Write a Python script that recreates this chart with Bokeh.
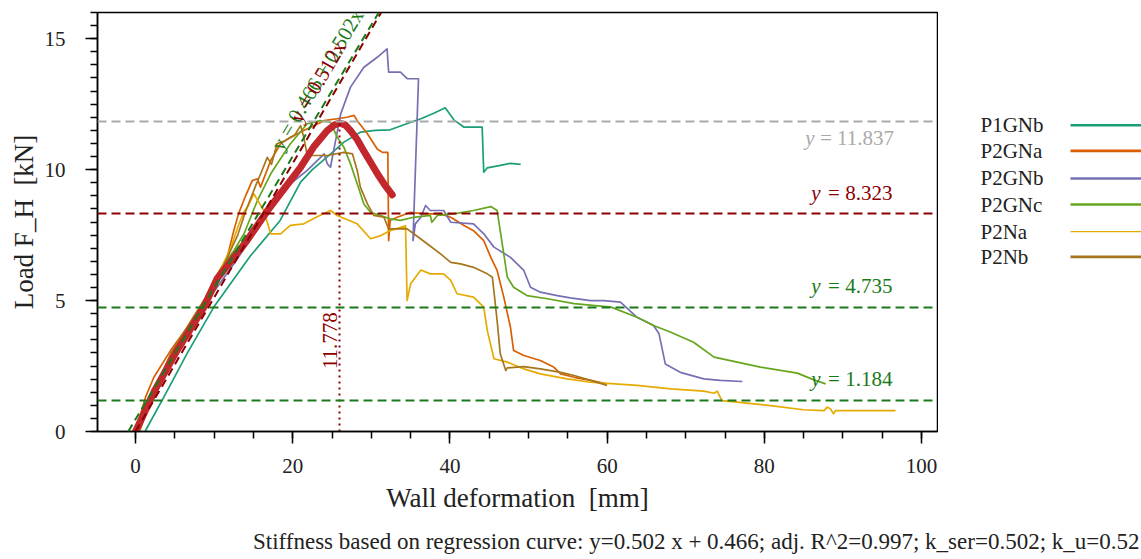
from bokeh.plotting import figure
from bokeh.layouts import column, row
from bokeh.models import Range1d, Span, Slope, Label, SingleIntervalTicker
from bokeh.embed import file_html
from bokeh.resources import INLINE

FONT = "Liberation Serif"
INK = "#222222"

# ---- measured load-deformation curves [mm, kN] ----
p1gnb_x = [1.2, 3.6, 6.6, 9.96, 14.6, 18.4, 21.0, 22.5, 25.2, 26.5, 28.6, 30.5, 32.4, 34.5,
           36.3, 37.95, 39.4, 40.5, 41.8, 44.1, 44.3, 44.75, 46.4, 47.7, 49.0]
p1gnb_y = [0.0, 1.31, 3.0, 4.75, 6.7, 8.06, 9.52, 10.0, 10.7, 11.05, 11.43, 11.5, 11.52, 11.75,
           11.94, 12.15, 12.36, 11.9, 11.62, 11.62, 9.9, 10.07, 10.16, 10.24, 10.2]

p2gna_x = [0.0, 1.27, 2.33, 4.45, 6.58, 8.69, 10.2, 11.67, 12.5, 13.1, 14.0, 14.85, 15.5, 15.9,
           16.5, 17.2, 18.45, 19.7, 21.4, 24.0, 26.9, 27.8, 28.2, 29.5, 30.75, 31.4, 32.1,
           32.2, 32.4, 33.3, 35.0, 36.7, 38.8, 40.1, 41.8, 43.0, 44.3, 45.2, 46.0, 46.85,
           47.7, 48.1, 49.4, 51.5, 53.2, 54.1, 55.8, 57.9, 59.8]
p2gna_y = [0.0, 1.31, 2.07, 3.09, 3.98, 5.0, 5.89, 6.66, 7.67, 8.31, 9.0, 9.58, 9.65, 9.33,
           9.8, 10.35, 10.99, 11.24, 11.49, 11.87, 12.0, 12.07, 11.87, 11.37, 10.79, 10.66, 10.66,
           7.29, 8.06, 8.18, 8.37, 8.31, 8.31, 8.18, 7.87, 7.67, 7.29, 6.65, 6.15, 5.13,
           3.98, 3.09, 2.9, 2.71, 2.46, 2.2, 2.07, 1.95, 1.83]

p2gnb_x = [0.3, 2.3, 4.5, 8.7, 10.6, 12.5, 15.0, 17.2, 19.7, 21.85, 24.0, 24.4, 24.8, 25.45,
           26.1, 27.35, 29.05, 30.75, 32.0, 32.2, 33.7, 34.6, 36.0, 35.3, 35.6, 36.3, 36.9,
           37.5, 39.2, 40.1, 43.0, 44.3, 45.6, 47.7, 49.4, 50.25, 51.5, 53.65, 55.3, 57.9,
           59.6, 61.7, 63.8, 65.9, 66.6, 67.4, 69.3, 72.3, 74.4, 77.2]
p2gnb_y = [0.0, 1.5, 2.9, 4.8, 5.6, 6.4, 7.5, 8.44, 9.46, 9.97, 10.6, 10.22, 10.09, 11.11,
           12.13, 13.15, 13.91, 14.29, 14.61, 13.72, 13.72, 13.47, 13.47, 7.29, 7.93, 8.18, 8.63,
           8.44, 8.44, 7.99, 7.93, 7.55, 7.04, 6.65, 6.15, 5.51, 5.32, 5.19, 5.1, 5.0,
           5.0, 4.94, 4.36, 4.05, 3.73, 2.58, 2.26, 2.01, 1.95, 1.91]

p2gnc_x = [0.3, 2.3, 4.5, 8.7, 11.0, 12.5, 13.8, 15.5, 17.2, 19.7, 21.85, 23.5, 24.8, 25.66,
           26.5, 27.35, 28.2, 29.05, 29.9, 32.4, 33.7, 35.4, 37.5, 37.7, 38.4, 40.5, 43.0,
           45.2, 46.0, 46.85, 47.3, 48.1, 49.8, 52.4, 55.8, 60.5, 63.8, 65.9, 68.1, 71.0,
           73.6, 76.55, 79.5, 84.2, 86.3, 87.8]
p2gnc_y = [0.0, 1.6, 2.9, 5.0, 6.3, 6.9, 7.55, 8.82, 9.84, 10.99, 11.75, 11.87, 11.81, 11.24,
           10.86, 10.22, 9.46, 8.69, 8.37, 8.12, 8.06, 8.18, 8.25, 7.99, 8.25, 8.31, 8.44,
           8.59, 8.44, 6.78, 5.89, 5.51, 5.19, 5.07, 4.88, 4.75, 4.36, 4.05, 3.79, 3.41,
           2.84, 2.65, 2.46, 2.23, 1.97, 1.82]

p2na_x = [0.5, 2.3, 4.5, 8.7, 11.0, 12.1, 13.0, 13.8, 14.3, 15.05, 16.3, 17.2, 18.45, 19.7,
          21.4, 23.1, 24.8, 25.66, 28.2, 29.9, 31.2, 32.4, 34.35, 34.55, 35.0, 36.3, 37.5,
          39.2, 40.1, 40.9, 43.0, 44.3, 44.75, 45.6, 47.3, 49.4, 51.5, 54.9, 57.9, 59.6,
          63.8, 68.1, 72.3, 73.6, 74.0, 74.6, 76.55, 80.8, 85.0, 87.6, 88.0, 88.4, 88.8,
          89.06, 93.5, 96.7]
p2na_y = [0.0, 1.6, 2.9, 5.0, 6.3, 7.0, 7.8, 8.4, 8.6, 9.08, 8.44, 7.55, 7.55, 7.87,
          7.93, 8.2, 8.44, 8.25, 7.93, 7.36, 7.48, 7.67, 7.85, 5.0, 5.64, 6.17, 6.02,
          6.02, 5.77, 5.26, 5.13, 4.75, 3.86, 2.78, 2.65, 2.39, 2.2, 2.01, 1.88, 1.85,
          1.76, 1.63, 1.54, 1.46, 1.54, 1.18, 1.12, 0.99, 0.83, 0.8, 0.93, 0.87, 0.68,
          0.8, 0.8, 0.8]

p2nb_x = [0.5, 2.3, 4.5, 8.7, 11.0, 13.0, 14.0, 15.3, 16.0, 16.76, 17.3, 18.0, 19.0, 20.2,
          21.0, 21.4, 21.85, 24.4, 26.5, 27.6, 28.2, 28.6, 29.5, 30.3, 31.6, 32.2, 32.9,
          34.55, 35.4, 37.1, 38.8, 40.1, 41.35, 43.0, 44.75, 45.4, 46.0, 46.4, 47.1, 47.3,
          49.4, 51.5, 54.1, 55.8, 57.9, 60.0]
p2nb_y = [0.0, 1.5, 3.0, 5.0, 6.2, 7.5, 8.4, 9.4, 9.9, 10.47, 10.2, 10.99, 11.1, 11.3,
          11.68, 11.24, 10.54, 10.54, 10.66, 10.6, 9.97, 9.33, 8.69, 8.25, 8.18, 7.74, 7.74,
          7.74, 7.55, 7.17, 6.78, 6.46, 6.4, 6.27, 6.02, 5.89, 4.24, 2.97, 2.33, 2.43,
          2.48, 2.39, 2.26, 2.14, 1.95, 1.76]

# mean curve
mean_x = [0.0, 2.5, 5.3, 8.7, 10.4, 12.9, 14.2, 16.8, 19.7, 21.0, 22.65, 24.4, 25.3, 25.95,
          26.7, 27.35, 28.2, 29.0, 29.9, 30.75, 31.7, 32.66]
mean_y = [0.0, 1.6, 3.1, 4.75, 5.85, 6.8, 7.3, 8.44, 9.58, 10.09, 10.86, 11.49, 11.7, 11.778,
          11.7, 11.49, 11.15, 10.73, 10.28, 9.85, 9.42, 9.04]

series_names = ["P1GNb", "P2GNa", "P2GNb", "P2GNc", "P2Na", "P2Nb"]
series_colors = ["#1b9e77", "#d95f02", "#7570b3", "#66a61e", "#e6ab02", "#a6761d"]
series_x = [p1gnb_x, p2gna_x, p2gnb_x, p2gnc_x, p2na_x, p2nb_x]
series_y = [p1gnb_y, p2gna_y, p2gnb_y, p2gnc_y, p2na_y, p2nb_y]

# reference levels and fits
levels = [11.837, 8.323, 4.735, 1.184]
level_colors = ["#aaaaaa", "#8b0000", "#1a7a1a", "#1a7a1a"]
peak_x, peak_y = 25.95, 11.778
reg_slope, reg_icpt = 0.502, 0.466
sec_slope = 0.512

caption = ("Stiffness based on regression curve: y=0.502 x + 0.466; adj. R^2=0.997; "
           "k_ser=0.502; k_u=0.52")

TOP_H = 520

# ---------------- main chart ----------------
p = figure(width=938, height=TOP_H, output_backend="svg", toolbar_location=None,
           x_range=Range1d(-4.84, 102.03), y_range=Range1d(0, 16),
           min_border_left=97, min_border_right=1, min_border_top=12,
           min_border_bottom=TOP_H - 431, background_fill_color="white",
           border_fill_color="white")
p.grid.visible = False
p.outline_line_color = "black"
p.outline_line_width = 1.5
p.outline_line_alpha = 1

p.xaxis.ticker = SingleIntervalTicker(interval=20, num_minor_ticks=4)
p.yaxis.ticker = SingleIntervalTicker(interval=5, num_minor_ticks=10)
for ax in (p.xaxis[0], p.yaxis[0]):
    ax.axis_line_color = "black"
    ax.axis_line_width = 1.5
    ax.major_tick_line_color = "black"
    ax.major_tick_line_width = 1.5
    ax.minor_tick_line_color = "black"
    ax.minor_tick_line_width = 1.5
    ax.major_tick_in = 0
    ax.major_tick_out = 12
    ax.minor_tick_in = 0
    ax.minor_tick_out = 7
    ax.major_label_text_font = FONT
    ax.major_label_text_font_size = "21px"
    ax.major_label_text_color = INK
    ax.axis_label_text_font = FONT
    ax.axis_label_text_font_size = "27px"
    ax.axis_label_text_font_style = "normal"
    ax.axis_label_text_color = INK
p.xaxis.axis_label = "Wall deformation\u00a0 [mm]"
p.yaxis.axis_label = "Load F_H\u00a0 [kN]"
p.xaxis.major_label_standoff = 15
p.xaxis.axis_label_standoff = 7
p.yaxis.major_label_standoff = 20
p.yaxis.axis_label_standoff = 3

# horizontal reference levels
for lev, col in zip(levels, level_colors):
    p.add_layout(Span(location=lev, dimension="width", line_color=col,
                      line_width=2, line_dash="9 5"))

# regression lines
p.add_layout(Slope(gradient=sec_slope, y_intercept=0.0, line_color="#8b0000",
                   line_width=2, line_dash="8 5"))
p.add_layout(Slope(gradient=reg_slope, y_intercept=reg_icpt, line_color="#1a7a1a",
                   line_width=2, line_dash="8 5"))

# test curves
for xs, ys, col in zip(series_x, series_y, series_colors):
    p.line(xs, ys, line_color=col, line_width=1.7, line_join="round")

# mean curve and its peak
p.line(mean_x, mean_y, line_color="#c1272d", line_width=7, line_cap="round",
       line_join="round")
p.line([peak_x, peak_x], [0, peak_y], line_color="#8b0000", line_width=2,
       line_dash="2 4")
p.add_layout(Label(x=24.8, y=3.47, text=f"{peak_y:.3f}", angle=1.5708,
                   text_align="center", text_baseline="middle", text_font=FONT,
                   text_font_size="21px", text_color="#8b0000"))

# fit labels along the lines
p.add_layout(Label(x=19.2, y=10.57, text=f"y = {reg_icpt:.3f} + {reg_slope:.3f}x",
                   angle=1.032, text_align="left", text_baseline="bottom",
                   text_font=FONT, text_font_size="21px", text_color="#1a7a1a"))
p.add_layout(Label(x=21.6, y=11.64, text=f"y = {sec_slope:.3f}x",
                   angle=1.040, text_align="left", text_baseline="bottom",
                   text_font=FONT, text_font_size="21px", text_color="#8b0000"))

# level labels: italic "y" followed by the value
level_label_y = [11.19, 9.1, 5.54, 1.99]
level_label_left = [85.2, 85.96, 85.96, 85.96]
for lev, col, ly, lx in zip(levels, level_colors, level_label_y, level_label_left):
    p.add_layout(Label(x=lx, y=ly, text="y", text_align="left",
                       text_baseline="middle", text_font=FONT, text_font_size="21px",
                       text_font_style="italic", text_color=col))
    p.add_layout(Label(x=96.5 if lev > 10 else 96.3, y=ly, text=f"= {lev:.3f}",
                       text_align="right", text_baseline="middle", text_font=FONT,
                       text_font_size="21px", text_color=col))

# ---------------- legend panel: name left, line sample right ----------------
LEG_W = 1141 - 938
leg = figure(width=LEG_W, height=TOP_H, output_backend="svg", toolbar_location=None,
             x_range=Range1d(0, LEG_W), y_range=Range1d(TOP_H, 0),
             x_axis_type=None, y_axis_type=None, min_border=0,
             background_fill_color="white", border_fill_color="white")
leg.grid.visible = False
leg.outline_line_color = None
legend_rows = [140, 171.7, 206, 238.3, 272, 303.3]
for name, col, ly in zip(series_names, series_colors, legend_rows):
    leg.add_layout(Label(x=42, y=ly, text=name, text_align="left",
                         text_baseline="middle", text_font=FONT,
                         text_font_size="21px", text_color=INK))
    leg.line([132, LEG_W], [ly, ly], line_color=col,
             line_width=1.3 if name == "P2Na" else 2.6)

# ---------------- caption strip ----------------
CAP_H = 559 - TOP_H
cap = figure(width=1141, height=CAP_H, output_backend="svg", toolbar_location=None,
             x_range=Range1d(0, 1141), y_range=Range1d(CAP_H, 0),
             x_axis_type=None, y_axis_type=None, min_border=0,
             background_fill_color="white", border_fill_color="white")
cap.grid.visible = False
cap.outline_line_color = None
cap.add_layout(Label(x=1139, y=21, text=caption, text_align="right",
                     text_baseline="middle", text_font=FONT, text_font_size="23px",
                     text_color=INK))

layout = column(row(p, leg, spacing=0), cap, spacing=0)
open("out.html", "w").write(file_html(layout, INLINE))
